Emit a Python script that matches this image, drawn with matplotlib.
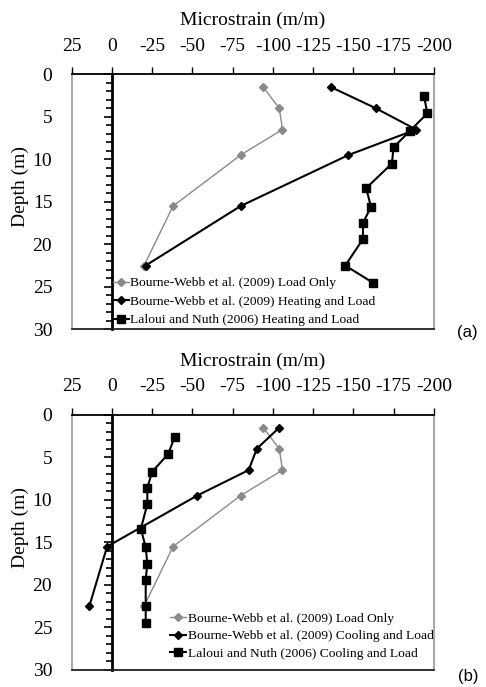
import matplotlib
matplotlib.use("Agg")
import matplotlib.pyplot as plt
from matplotlib.ticker import MultipleLocator

plt.rcParams['font.family'] = ['Liberation Serif', 'DejaVu Serif']

# depths (m)
depth_bw = [1.5, 4.0, 6.5, 9.5, 15.5, 22.5]
depth_ln = [2.6, 4.6, 6.7, 8.6, 10.5, 13.4, 15.6, 17.5, 19.4, 22.5, 24.5]

# panel (a) - heating
bw_load = [-94, -104, -106, -80, -38, -20]
bw_heat = [-136, -164, -189, -147, -80, -21]
ln_heat = [-194, -196, -185, -175, -174, -158, -161, -156, -156, -145, -162]

# panel (b) - cooling
bw_cool = [-104, -90, -85, -53, 3, 14]
ln_cool = [-39, -35, -25, -22, -22, -18, -21, -22, -21, -21, -21]

labels_a = ["Bourne-Webb et al. (2009) Load Only",
            "Bourne-Webb et al. (2009) Heating and Load",
            "Laloui and Nuth (2006) Heating and Load"]
labels_b = ["Bourne-Webb et al. (2009) Load Only",
            "Bourne-Webb et al. (2009) Cooling and Load",
            "Laloui and Nuth (2006) Cooling and Load"]

GREY = '#8a8a8a'
FRAME = '#a8a8a8'


def setup(ax):
    ax.set_xlim(25, -200)
    ax.set_ylim(30, 0)
    ax.xaxis.set_major_locator(MultipleLocator(25))
    ax.xaxis.tick_top()
    ax.xaxis.set_label_position('top')
    ax.tick_params(axis='x', direction='out', length=5, width=1, pad=9,
                   labelsize=14)
    ax.set_xlabel("Microstrain (m/m)", fontsize=14, labelpad=9)
    ax.xaxis.set_major_formatter(plt.FuncFormatter(lambda v, p: "%d" % v))

    # vertical axis crossing at zero
    ax.spines['left'].set_position(('data', 0))
    ax.spines['left'].set_linewidth(2)
    ax.spines['top'].set_linewidth(1.3)
    ax.spines['bottom'].set_linewidth(1.3)
    ax.spines['bottom'].set_color('#222222')
    ax.spines['right'].set_color(FRAME)
    ax.spines['right'].set_linewidth(1.5)
    ax.yaxis.set_major_locator(MultipleLocator(5))
    ax.yaxis.set_minor_locator(MultipleLocator(1))
    ax.tick_params(axis='y', which='major', direction='out', length=6,
                   width=1.2, labelleft=False)
    ax.tick_params(axis='y', which='minor', direction='out', length=4,
                   width=1.2)
    ax.set_ylabel("Depth (m)", fontsize=14)
    ax.yaxis.set_label_coords(-0.118, 0.56)

    # labels at the left frame
    sec = ax.secondary_yaxis(0.0)
    sec.yaxis.set_major_locator(MultipleLocator(5))
    sec.tick_params(length=0, pad=14, labelsize=14)
    sec.tick_params(which='minor', length=0)
    sec.spines['left'].set_color(FRAME)
    sec.spines['left'].set_linewidth(1.5)


fig = plt.figure(figsize=(4.86, 6.87), dpi=100)
ax1 = fig.add_axes([0.1475, 0.5207, 0.745, 0.3712])
ax2 = fig.add_axes([0.1475, 0.0250, 0.745, 0.3712])

for ax in (ax1, ax2):
    setup(ax)

ax1.plot(bw_load, depth_bw, color=GREY, lw=1.0, marker='D', ms=3.6,
         label=labels_a[0])
ax1.plot(bw_heat, depth_bw, color='black', lw=1.5, marker='D', ms=3.6,
         label=labels_a[1])
ax1.plot(ln_heat, depth_ln, color='black', lw=1.5, marker='s', ms=6,
         label=labels_a[2])
ax1.legend(loc='center left', bbox_to_anchor=(0.114, 0.108), frameon=False,
           fontsize=9.7, borderpad=0, borderaxespad=0, handlelength=1.2,
           handletextpad=0.1, labelspacing=0.45)

ax2.plot(bw_load, depth_bw, color=GREY, lw=1.0, marker='D', ms=3.6,
         label=labels_b[0])
ax2.plot(bw_cool, depth_bw, color='black', lw=1.5, marker='D', ms=3.6,
         label=labels_b[1])
ax2.plot(ln_cool, depth_ln, color='black', lw=1.5, marker='s', ms=6,
         label=labels_b[2])
ax2.legend(loc='center left', bbox_to_anchor=(0.2716, 0.132), frameon=False,
           fontsize=9.7, borderpad=0, borderaxespad=0, handlelength=1.2,
           handletextpad=0.1, labelspacing=0.4)

fig.text(457 / 486, 1 - 333 / 687, "(a)", family='Liberation Sans',
         fontsize=12, va='center', ha='left')
fig.text(458 / 486, 1 - 677 / 687, "(b)", family='Liberation Sans',
         fontsize=12, va='center', ha='left')

fig.savefig("out.png", dpi=100)
